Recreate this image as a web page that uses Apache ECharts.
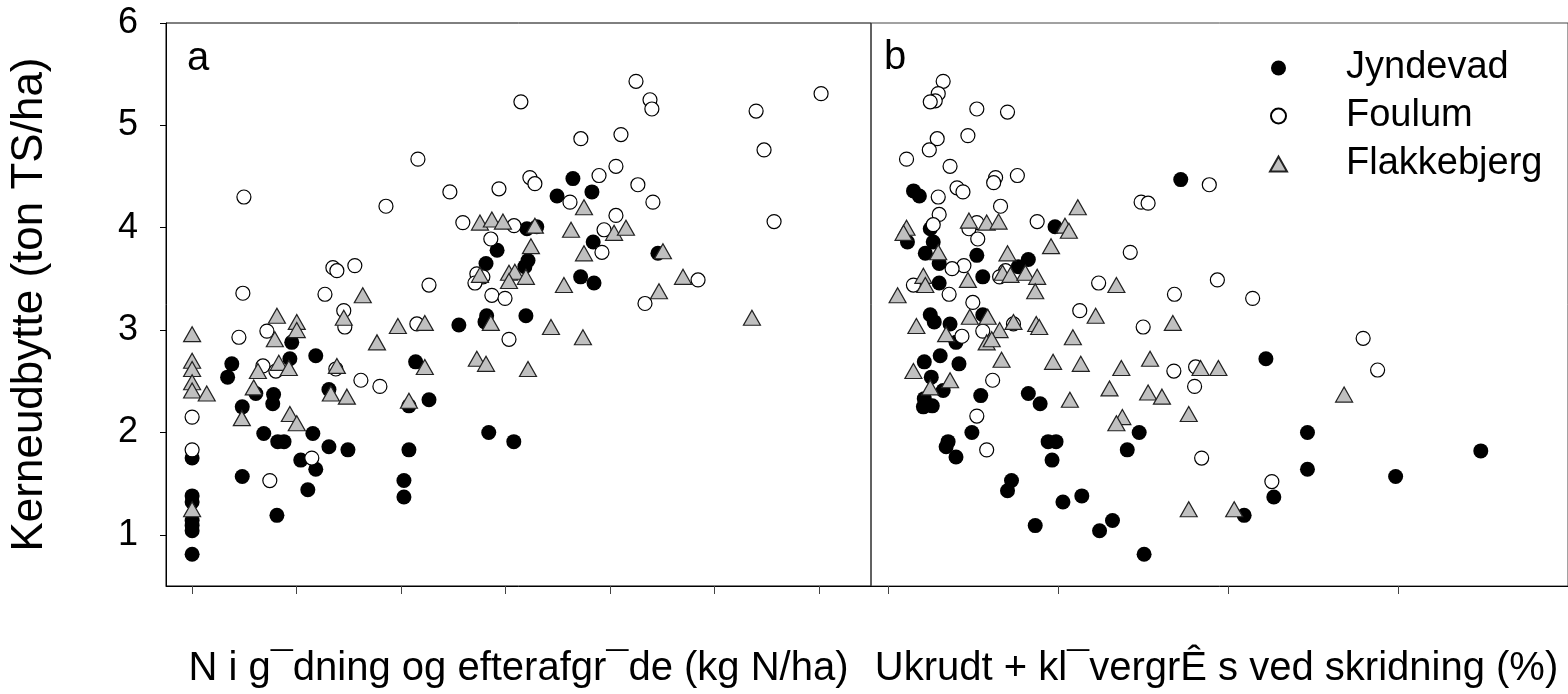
<!DOCTYPE html>
<html>
<head>
<meta charset="utf-8">
<script src="https://cdn.jsdelivr.net/npm/echarts@6/dist/echarts.min.js"></script>
<style>
html,body{margin:0;padding:0;background:#fff;}
#chart{width:1568px;height:694px;}
</style>
</head>
<body>
<div id="chart"></div>
<script>
const seriesNames = ['Jyndevad', 'Foulum', 'Flakkebjerg'];
const yTicks = [1, 2, 3, 4, 5, 6];
const nTicks = [0, 50, 100, 150, 200, 250, 300];
const weedTicks = [0, 20, 40, 60, 80];
const panelLabels = ['a', 'b'];
const xTitles = ['N i g¯dning og efterafgr¯de (kg N/ha)', 'Ukrudt + kl¯vergrÊ s ved skridning (%)'];
const yTitle = 'Kerneudbytte (ton TS/ha)';

// Panel a: N in manure and catch crop (kg N/ha) vs grain yield
const nJyndevad = [[0,1.75],[0,1.38],[0,1.32],[0,1.14],[0,1.09],[0,1.04],[0,0.81],
[19,2.67],[17,2.54],[24,2.25],[24,1.57],[30.5,2.38],[39,2.37],[38.6,2.28],[34.3,1.99],[41,1.91],[44,1.91],[40.6,1.19],[47.7,2.88],[46.8,2.72],[59.2,2.75],[57.8,1.99],[52,1.73],[59.2,1.64],[55.4,1.44],[65.5,2.42],[65.5,1.86],[74.6,1.83],[107,2.69],[103.8,2.26],[113.4,2.32],[103.8,1.83],[101.4,1.53],[101.4,1.37],[127.7,3.05],[182.3,4.48],[191.4,4.35],[174.7,4.31],[160.3,3.99],[165,4.01],[146,3.78],[140.7,3.65],[160.8,3.68],[159.3,3.62],[192,3.86],[186,3.52],[192.4,3.46],[223,3.75],[141,3.14],[140.2,3.08],[159.8,3.14],[142,2.0],[154,1.91]];
const nFoulum = [[67.4,3.61],[69.3,3.58],[77.9,3.63],[24.3,3.36],[63.6,3.35],[113.4,3.44],[72.6,3.19],[73.1,3.03],[22.4,2.93],[35.8,2.99],[33.9,2.65],[40.1,2.60],[107.6,3.06],[68.8,2.62],[80.8,2.51],[89.9,2.45],[0,2.15],[0,1.83],[57.3,1.75],[37.2,1.53],[24.8,4.30],[92.8,4.21],[108.1,4.67],[157.4,5.23],[212.5,5.43],[219.2,5.25],[220.1,5.16],[205.3,4.91],[186.1,4.87],[202.9,4.60],[194.8,4.51],[161.7,4.49],[164.1,4.43],[123.4,4.35],[146.9,4.38],[213.4,4.42],[180.9,4.25],[220.6,4.25],[202.9,4.12],[129.6,4.05],[154.1,4.02],[197.2,3.98],[143,3.89],[196.2,3.76],[136.3,3.55],[139.2,3.52],[135.4,3.46],[143.5,3.34],[149.8,3.31],[242.2,3.49],[216.8,3.26],[151.7,2.91],[301.1,5.31],[270,5.14],[273.8,4.76],[278.6,4.06]];
const nFlakkebjerg = [[0,2.96],[0,2.70],[0,2.62],[0,2.49],[0,2.41],[7,2.38],[0,1.25],[40.6,3.14],[50.1,3.08],[50.1,3.00],[39.6,2.91],[31.5,2.60],[41.5,2.68],[46.3,2.63],[29.5,2.44],[23.8,2.14],[46.8,2.18],[50.1,2.09],[81.7,3.34],[72.6,3.12],[69.3,2.65],[88.5,2.88],[98.5,3.04],[111.4,3.07],[111.4,2.64],[66.4,2.38],[74.1,2.35],[103.8,2.31],[137.8,4.05],[143.5,4.08],[148.8,4.06],[164.1,4.02],[187.6,4.20],[181.4,3.98],[202,3.95],[207.7,4.00],[162.2,3.82],[187.6,3.75],[137.8,3.54],[151.7,3.56],[154.5,3.57],[151.7,3.48],[159.8,3.52],[178,3.44],[225.4,3.77],[235,3.52],[223.5,3.38],[143,3.07],[171.8,3.03],[187.1,2.93],[136.3,2.72],[140.7,2.67],[160.8,2.62],[268,3.12]];

// Panel b: weeds + clover grass at heading (%) vs grain yield
const weedJyndevad = [[3.0,4.36],[3.69,4.31],[4.97,3.99],[2.29,3.86],[5.32,3.86],[4.39,3.75],[6.02,3.65],[6.02,3.46],[10.45,3.73],[11.15,3.52],[15.34,3.62],[16.51,3.69],[19.65,4.01],[4.97,3.15],[5.44,3.08],[7.3,3.06],[8.0,2.88],[11.15,3.15],[4.27,2.69],[6.14,2.75],[8.35,2.67],[5.09,2.54],[6.49,2.41],[4.27,2.33],[4.16,2.25],[5.21,2.26],[10.91,2.36],[16.51,2.38],[17.9,2.28],[9.87,2.0],[7.07,1.91],[6.84,1.86],[8.0,1.76],[18.84,1.91],[19.77,1.91],[19.3,1.73],[29.55,2.0],[28.15,1.83],[14.53,1.53],[14.06,1.43],[22.8,1.38],[20.58,1.32],[17.32,1.09],[26.41,1.14],[24.89,1.04],[30.13,0.81],[41.9,1.19],[45.39,1.37],[49.35,1.64],[59.72,1.57],[69.74,1.82],[34.44,4.47],[44.46,2.72],[49.35,2.0]];
const weedFoulum = [[6.49,5.43],[5.91,5.31],[5.56,5.24],[4.97,5.23],[10.45,5.16],[14.06,5.13],[9.4,4.9],[5.79,4.87],[4.86,4.76],[2.18,4.67],[7.3,4.6],[12.66,4.49],[12.43,4.44],[15.22,4.51],[8.12,4.39],[8.82,4.35],[5.91,4.3],[13.24,4.21],[6.02,4.13],[5.32,4.03],[10.45,4.05],[9.52,3.99],[17.55,4.06],[10.56,3.89],[8.93,3.63],[7.54,3.6],[13.83,3.58],[13.13,3.52],[2.99,3.44],[7.19,3.35],[9.98,3.27],[24.78,3.46],[28.5,3.76],[29.78,4.25],[30.6,4.24],[22.56,3.19],[30.02,3.03],[8.7,2.94],[11.15,2.99],[14.76,3.06],[33.63,2.6],[36.19,2.64],[36.07,2.45],[12.31,2.51],[10.45,2.16],[11.61,1.83],[36.9,1.75],[37.8,4.42],[38.75,3.49],[42.9,3.31],[33.7,3.35],[45.16,1.52],[55.9,2.92],[57.6,2.61]];
const weedFlakkebjerg = [[22.33,4.2],[2.18,4.0],[1.83,3.95],[9.52,4.07],[11.61,4.05],[13.01,4.06],[20.82,4.02],[21.28,3.97],[19.18,3.82],[5.91,3.76],[14.06,3.75],[4.16,3.53],[4.39,3.44],[9.4,3.49],[13.48,3.56],[14.41,3.54],[16.16,3.56],[17.55,3.52],[17.32,3.38],[1.13,3.34],[26.87,3.44],[3.34,3.04],[6.84,2.96],[9.63,3.13],[11.73,3.13],[13.13,3.0],[11.61,2.88],[12.2,2.91],[14.76,3.08],[17.44,3.06],[17.79,3.03],[24.43,3.14],[21.75,2.93],[33.51,3.07],[13.36,2.71],[19.42,2.69],[22.68,2.67],[27.45,2.63],[30.83,2.72],[2.99,2.6],[7.3,2.51],[4.97,2.44],[26.06,2.43],[30.6,2.39],[32.23,2.35],[21.4,2.32],[35.38,2.18],[27.57,2.15],[26.87,2.09],[35.38,1.25],[40.73,1.25],[36.77,2.63],[38.87,2.63],[53.66,2.37]];

const FONT = '"Liberation Sans", Arial, Helvetica, sans-serif';

const styles = [
  { symbol: 'circle', symbolSize: 15, itemStyle: { color: '#000', borderColor: '#000', borderWidth: 0, opacity: 1 } },
  { symbol: 'circle', symbolSize: 14, itemStyle: { color: '#fff', borderColor: '#000', borderWidth: 1.2, opacity: 1 } },
  { symbol: 'triangle', symbolSize: [17, 15], itemStyle: { color: '#c0c0c0', borderColor: '#222', borderWidth: 1.2, opacity: 1 } }
];

const panelData = [[nJyndevad, nFoulum, nFlakkebjerg], [weedJyndevad, weedFoulum, weedFlakkebjerg]];
const series = [];
panelData.forEach((sets, p) => {
  sets.forEach((d, i) => {
    series.push(Object.assign({
      type: 'scatter',
      name: seriesNames[i],
      xAxisIndex: p,
      yAxisIndex: p,
      data: d,
      silent: true,
      z: 2 + i
    }, styles[i]));
  });
});

const chart = echarts.init(document.getElementById('chart'), null, { renderer: 'canvas' });
chart.setOption({
  animation: false,
  backgroundColor: '#fff',
  textStyle: { fontFamily: FONT },
  title: [
    { text: panelLabels[0], left: 187, top: 39, padding: 0, textStyle: { fontFamily: FONT, fontSize: 40, fontWeight: 'normal', color: '#000' } },
    { text: panelLabels[1], left: 884, top: 38, padding: 0, textStyle: { fontFamily: FONT, fontSize: 40, fontWeight: 'normal', color: '#000' } }
  ],
  legend: {
    orient: 'vertical',
    left: 1269,
    top: 49,
    padding: 0,
    itemWidth: 17,
    itemHeight: 15,
    itemGap: 10,
    selectedMode: false,
    data: seriesNames,
    textStyle: { fontFamily: FONT, fontSize: 38, lineHeight: 38, color: '#000', padding: [0, 0, 0, 54] }
  },
  grid: [
    { left: 166, top: 23, width: 705, height: 564, show: true, borderColor: '#000', borderWidth: 1, backgroundColor: 'transparent' },
    { left: 871, top: 23, width: 704, height: 564, show: true, borderColor: '#444', borderWidth: 1, backgroundColor: 'transparent' }
  ],
  xAxis: [
    {
      gridIndex: 0, type: 'value', min: -12.5, max: 325,
      name: xTitles[0], nameLocation: 'middle', nameGap: 63,
      nameTextStyle: { fontFamily: FONT, fontSize: 40, color: '#000' },
      axisLine: { show: true, onZero: false, lineStyle: { color: '#000', width: 1 } },
      axisTick: { show: true, length: 8, customValues: nTicks, lineStyle: { color: '#444' } },
      axisLabel: { show: false, customValues: nTicks },
      splitLine: { show: false }
    },
    {
      gridIndex: 1, type: 'value', min: -2, max: 80,
      name: xTitles[1], nameLocation: 'middle', nameGap: 63,
      nameTextStyle: { fontFamily: FONT, fontSize: 40, color: '#000', padding: [0, 6, 0, 0] },
      axisLine: { show: true, onZero: false, lineStyle: { color: '#000', width: 1 } },
      axisTick: { show: true, length: 8, customValues: weedTicks, lineStyle: { color: '#444' } },
      axisLabel: { show: false, customValues: weedTicks },
      splitLine: { show: false }
    }
  ],
  yAxis: [
    {
      gridIndex: 0, type: 'value', min: 0.5, max: 6,
      name: yTitle, nameLocation: 'middle', nameGap: 114,
      nameTextStyle: { fontFamily: FONT, fontSize: 44, color: '#000' },
      axisLine: { show: true, onZero: false, lineStyle: { color: '#000', width: 1 } },
      axisTick: { show: true, length: 6, customValues: yTicks, lineStyle: { color: '#000' } },
      axisLabel: { show: true, margin: 28, customValues: yTicks, fontFamily: FONT, fontSize: 36, color: '#000' },
      splitLine: { show: false }
    },
    {
      gridIndex: 1, type: 'value', min: 0.5, max: 6, show: false,
      splitLine: { show: false }
    }
  ],
  series: series
});
</script>
</body>
</html>
